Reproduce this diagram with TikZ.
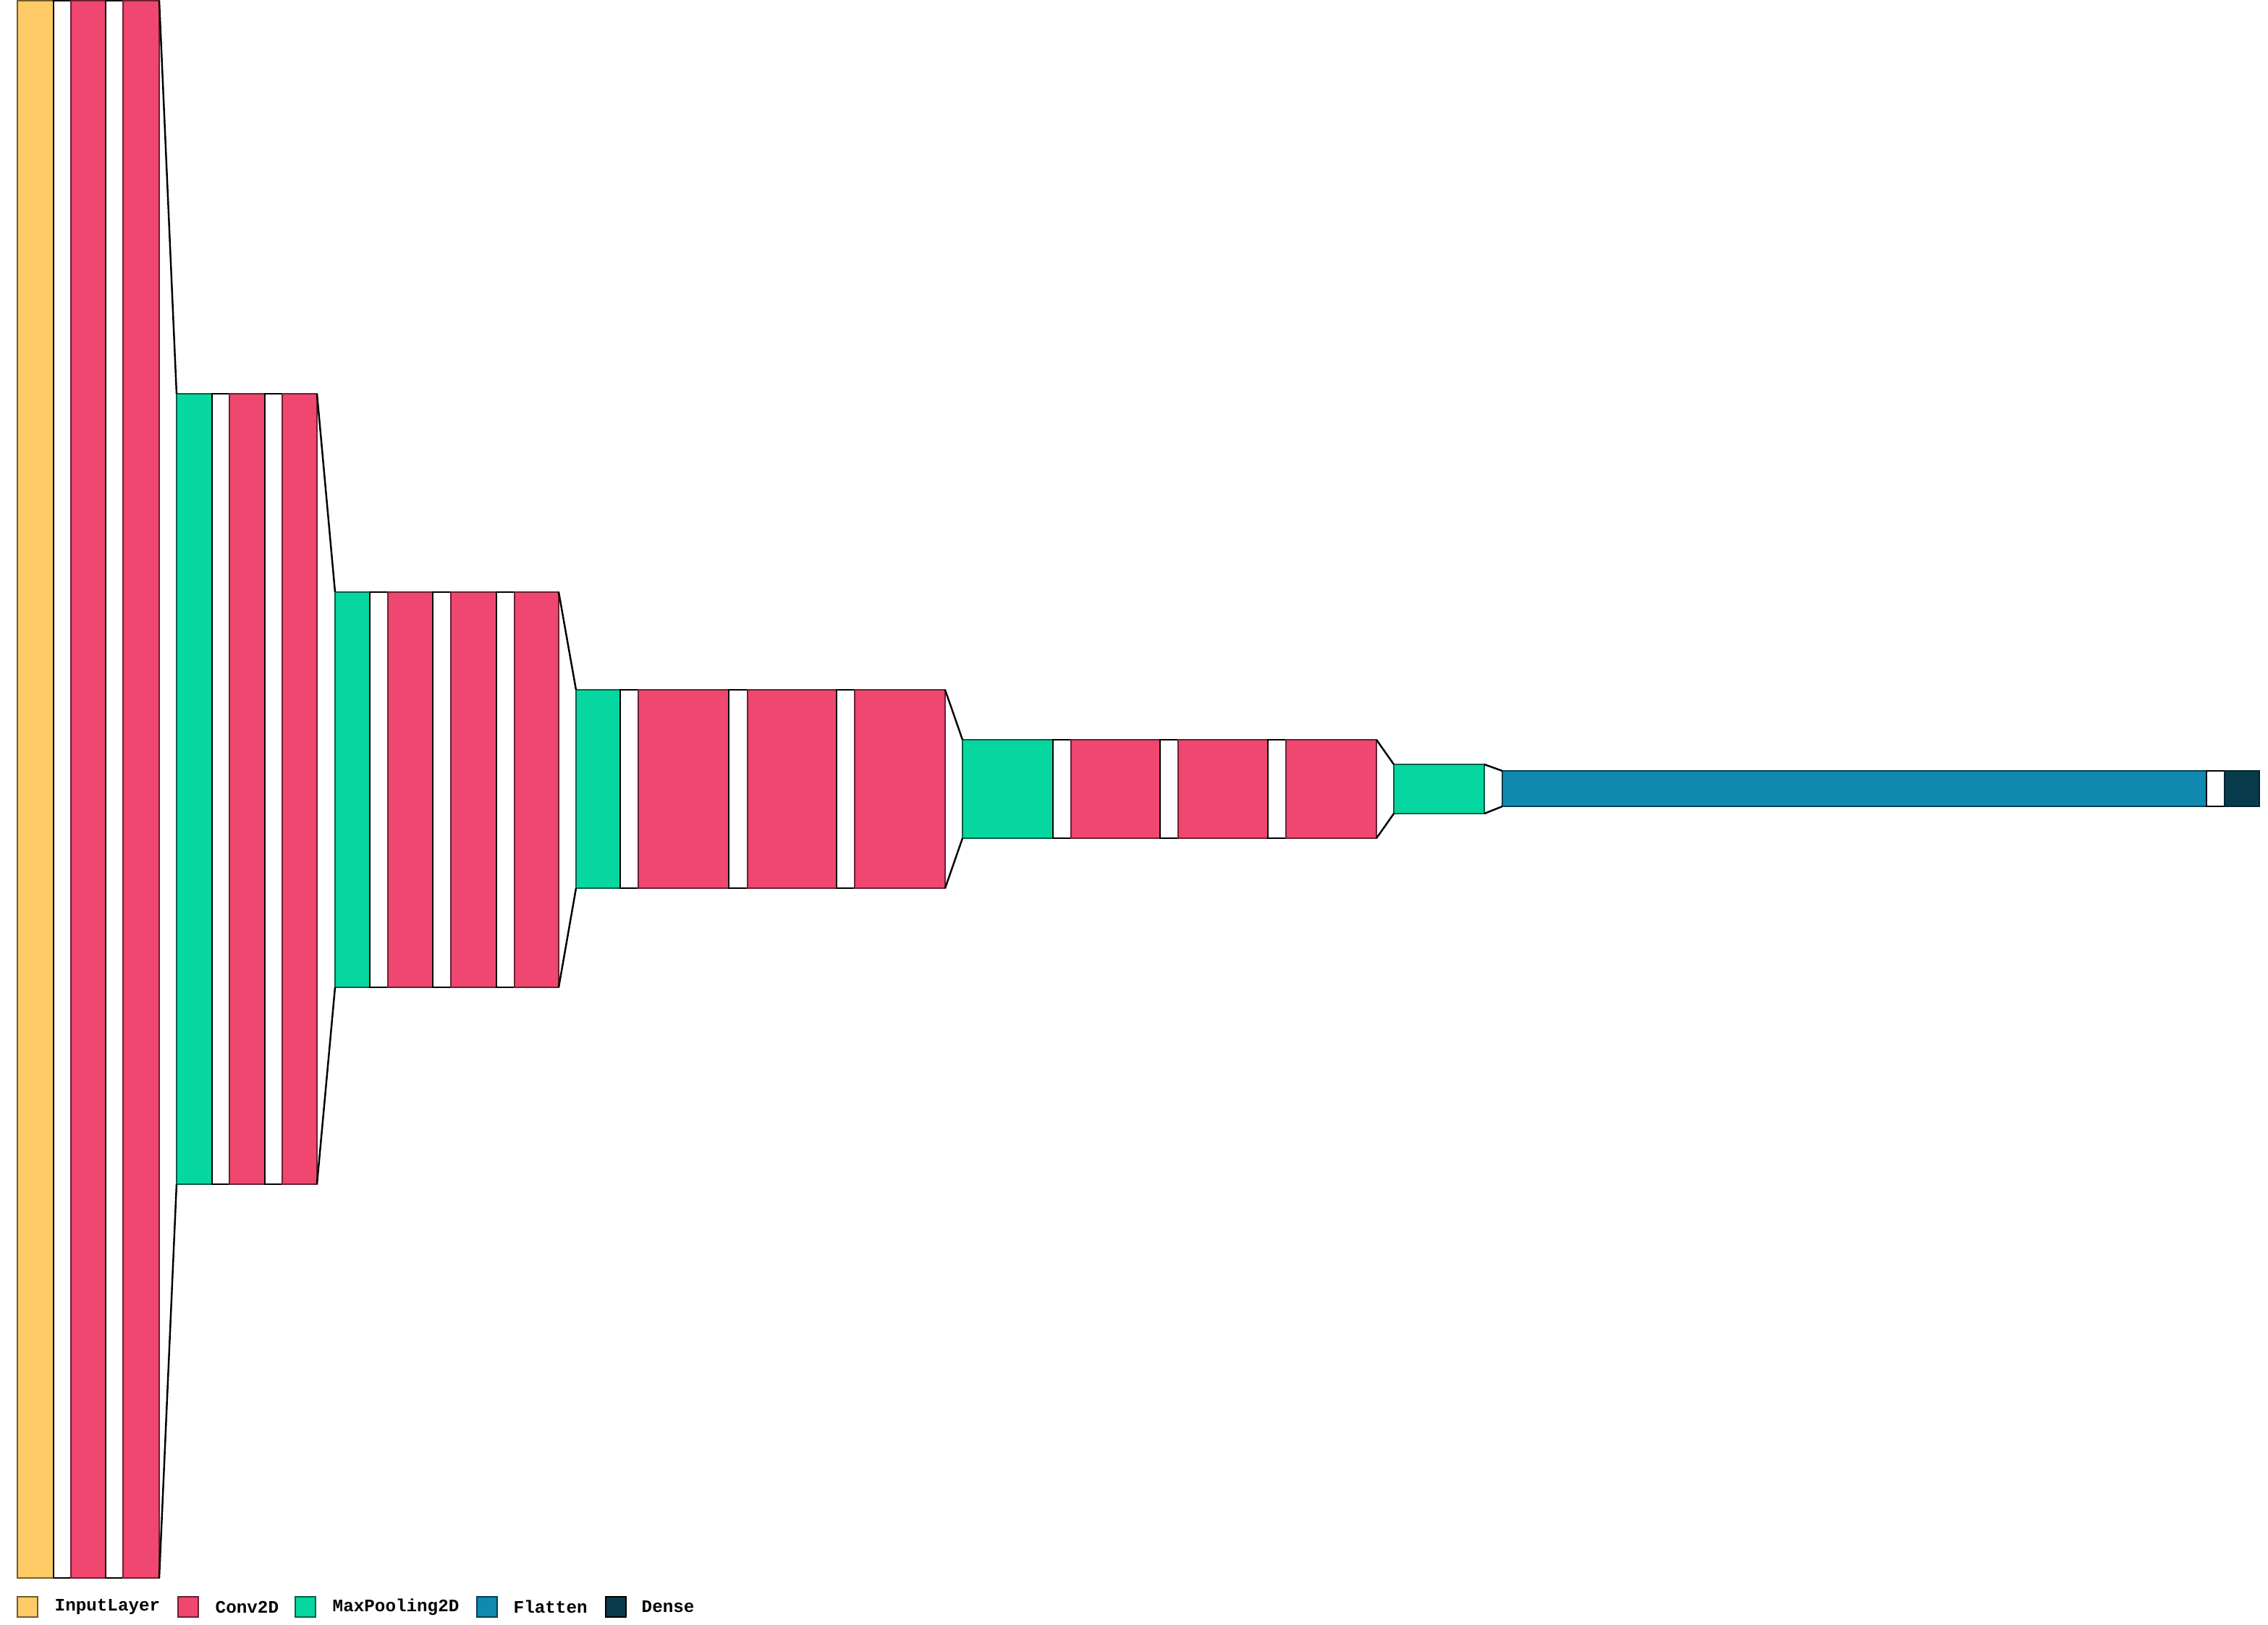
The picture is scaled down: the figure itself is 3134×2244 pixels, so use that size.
\documentclass[tikz,border=0pt]{standalone}
\usepackage{fontspec}
\newfontfamily\legfont{Liberation Mono}
\definecolor{cin}{HTML}{FFCB66}
\definecolor{cconv}{HTML}{EF476F}
\definecolor{cpool}{HTML}{06D6A0}
\definecolor{cflat}{HTML}{118AB2}
\definecolor{cdense}{HTML}{073B4C}
\tikzset{
  lay/.style={rectangle, inner sep=0pt, outer sep=0pt, line width=0.75pt, anchor=north west},
  inlay/.style={lay, fill=cin, draw=cin!45!black},
  convlay/.style={lay, fill=cconv, draw=cconv!45!black},
  poollay/.style={lay, fill=cpool, draw=cpool!45!black},
  flatlay/.style={lay, fill=cflat, draw=cflat!45!black},
  denselay/.style={lay, fill=cdense, draw=cdense!60!black},
  gaplay/.style={lay, fill=white, draw=black},
  funnel/.style={draw=black, line width=0.7pt},
  legsq/.style={rectangle, inner sep=0pt, outer sep=0pt, line width=0.7pt, minimum width=0.28cm, minimum height=0.28cm},
  legtxt/.style={anchor=west, inner sep=0pt, font=\legfont\bfseries\fontsize{6.9pt}{8pt}\selectfont}
}
\newcommand{\lay}[6]{\node[#2, minimum width={(#4-#3)*0.01cm}, minimum height={(#6-#5)*0.01cm}] (#1) at (#3,#5) {};}
\begin{document}
\begin{tikzpicture}[x=0.01cm, y=-0.01cm]
\fill[white] (0,0) rectangle (3134,2244);
\useasboundingbox (0,0) rectangle (3134,2244);
% block 1
\lay{in}{inlay}{24}{74}{1}{2180}
\lay{w0}{gaplay}{74}{98}{1}{2180}
\lay{cA}{convlay}{98}{146}{1}{2180}
\lay{w1}{gaplay}{146}{170}{1}{2180}
\lay{cB}{convlay}{170}{220}{1}{2180}
% block 2
\lay{mp1}{poollay}{244}{293}{544}{1636}
\lay{w2}{gaplay}{293}{317}{544}{1636}
\lay{c2a}{convlay}{317}{366}{544}{1636}
\lay{w3}{gaplay}{366}{390}{544}{1636}
\lay{c2b}{convlay}{390}{438}{544}{1636}
% block 3
\lay{mp2}{poollay}{463}{511}{818}{1364}
\lay{w4}{gaplay}{511}{536}{818}{1364}
\lay{c3a}{convlay}{536}{598}{818}{1364}
\lay{w5}{gaplay}{598}{623}{818}{1364}
\lay{c3b}{convlay}{623}{686}{818}{1364}
\lay{w6}{gaplay}{686}{711}{818}{1364}
\lay{c3c}{convlay}{711}{772}{818}{1364}
% block 4
\lay{mp3}{poollay}{796}{857}{953}{1227}
\lay{w7}{gaplay}{857}{882}{953}{1227}
\lay{c4a}{convlay}{882}{1007}{953}{1227}
\lay{w8}{gaplay}{1007}{1033}{953}{1227}
\lay{c4b}{convlay}{1033}{1156}{953}{1227}
\lay{w9}{gaplay}{1156}{1181}{953}{1227}
\lay{c4c}{convlay}{1181}{1306}{953}{1227}
% block 5
\lay{mp4}{poollay}{1330}{1455}{1022}{1158}
\lay{w10}{gaplay}{1455}{1480}{1022}{1158}
\lay{c5a}{convlay}{1480}{1603}{1022}{1158}
\lay{w11}{gaplay}{1603}{1628}{1022}{1158}
\lay{c5b}{convlay}{1628}{1752}{1022}{1158}
\lay{w12}{gaplay}{1752}{1777}{1022}{1158}
\lay{c5c}{convlay}{1777}{1902}{1022}{1158}
% tail
\lay{mp5}{poollay}{1926}{2051}{1056}{1124}
\lay{fl}{flatlay}{2076}{3049}{1065}{1114}
\lay{w13}{gaplay}{3049}{3074}{1065}{1114}
\lay{de}{denselay}{3074}{3122}{1065}{1114}
% funnels
\foreach \a/\b in {cB/mp1, c2b/mp2, c3c/mp3, c4c/mp4, c5c/mp5, mp5/fl}{
  \draw[funnel] (\a.north east) -- (\b.north west);
  \draw[funnel] (\a.south east) -- (\b.south west);
}
% legend
\node[legsq, fill=cin, draw=cin!45!black] (lq1) at (38,2220) {};
\node[legtxt] (lt1) at (75,2220) {InputLayer};
\node[legsq, fill=cconv, draw=cconv!45!black] (lq2) at (260,2220) {};
\node[legtxt] (lt2) at (297,2220) {Conv2D};
\node[legsq, fill=cpool, draw=cpool!45!black] (lq3) at (422,2220) {};
\node[legtxt] (lt3) at (459,2220) {MaxPooling2D};
\node[legsq, fill=cflat, draw=cflat!45!black] (lq4) at (673,2220) {};
\node[legtxt] (lt4) at (709,2220) {Flatten};
\node[legsq, fill=cdense, draw=black] (lq5) at (851,2220) {};
\node[legtxt] (lt5) at (886,2220) {Dense};
\end{tikzpicture}
\end{document}
